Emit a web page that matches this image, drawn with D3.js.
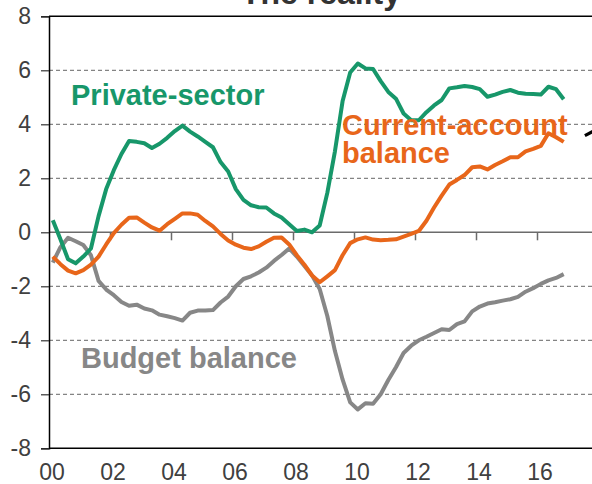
<!DOCTYPE html>
<html>
<head>
<meta charset="utf-8">
<script src="https://cdn.jsdelivr.net/npm/d3@7"></script>
<style>
  body { margin: 0; background: #fff; }
  svg { display: block; font-family: "Liberation Sans", Arial, sans-serif; }
</style>
</head>
<body>
<div id="chart"></div>
<script>
// quarterly data, 2000Q1 .. 2016Q4, % of GDP
var startYear = 2000;
var privateSector = [0.45, -0.26, -1.0, -1.15, -0.9, -0.6, 0.6, 1.6, 2.3, 2.9,
  3.38, 3.35, 3.3, 3.12, 3.28, 3.5, 3.75, 3.95, 3.73, 3.55,
  3.35, 3.15, 2.6, 2.25, 1.6, 1.2, 1.0, 0.93, 0.92, 0.7,
  0.55, 0.3, 0.05, 0.1, 0.0, 0.25, 1.46, 3.0, 4.85, 5.92,
  6.25, 6.07, 6.05, 5.6, 5.2, 4.95, 4.4, 4.15, 4.15, 4.45,
  4.7, 4.9, 5.33, 5.37, 5.42, 5.38, 5.3, 5.02, 5.1, 5.2,
  5.27, 5.17, 5.13, 5.12, 5.1, 5.39, 5.3, 4.93];
var currentAccount = [-0.9, -1.18, -1.42, -1.52, -1.4, -1.2, -0.9, -0.45, -0.03, 0.28,
  0.54, 0.55, 0.36, 0.18, 0.06, 0.3, 0.5, 0.7, 0.7, 0.65,
  0.42, 0.22, -0.06, -0.3, -0.46, -0.57, -0.62, -0.52, -0.35, -0.2,
  -0.19, -0.45, -0.85, -1.2, -1.6, -1.85, -1.63, -1.4, -0.85, -0.4,
  -0.26, -0.19, -0.27, -0.29, -0.28, -0.26, -0.16, -0.06, 0.05, 0.43,
  0.92, 1.36, 1.77, 1.94, 2.12, 2.41, 2.44, 2.33, 2.49, 2.63,
  2.78, 2.78, 3.0, 3.09, 3.2, 3.67, 3.52, 3.35];
var budgetBalance = [-1.12, -0.55, -0.2, -0.33, -0.47, -0.85, -1.8, -2.12, -2.33, -2.58,
  -2.72, -2.68, -2.82, -2.89, -3.05, -3.11, -3.18, -3.27, -2.98, -2.9,
  -2.9, -2.88, -2.6, -2.38, -2.0, -1.73, -1.63, -1.49, -1.31, -1.06,
  -0.84, -0.6, -0.9, -1.25, -1.6, -2.1, -3.1, -4.4, -5.45, -6.3,
  -6.56, -6.33, -6.35, -6.0, -5.47, -5.0, -4.47, -4.2, -4.0, -3.87,
  -3.73, -3.59, -3.62, -3.4, -3.3, -2.93, -2.75, -2.64, -2.59, -2.53,
  -2.48, -2.39, -2.2, -2.07, -1.91, -1.78, -1.69, -1.55];
// stray stroke from the neighbouring panel, cut off at the right edge
var nextPanelYears = [2017.57, 2017.85];
var nextPanelValues = [3.58, 3.75];

var yTicks = [-8, -6, -4, -2, 0, 2, 4, 6, 8];
var xTickYears = [2000, 2002, 2004, 2006, 2008, 2010, 2012, 2014, 2016];
var xTickLabels = ["00", "02", "04", "06", "08", "10", "12", "14", "16"];

var width = 592, height = 484;
var svg = d3.select("#chart").append("svg").attr("width", width).attr("height", height);

var x = d3.scaleLinear().domain([2000, 2018]).range([49, 598]);
var y = d3.scaleLinear().domain([-8, 8]).range([448.3, 16.3]);

// title, mostly cut off at the top (as in the source)
svg.append("text")
  .attr("x", 321).attr("y", 4)
  .attr("text-anchor", "middle")
  .style("font-size", "32px").style("font-weight", "bold")
  .style("fill", "#333")
  .text("The reality");

// gridlines
svg.selectAll(".grid")
  .data(yTicks.filter(function(d) { return d != 0 && Math.abs(d) != 8; }))
  .enter().append("line")
  .attr("x1", x(2000)).attr("x2", width)
  .attr("y1", function(d) { return y(d); }).attr("y2", function(d) { return y(d); })
  .style("stroke", "#666").style("stroke-width", 1).style("stroke-dasharray", "4,3");

// top and bottom borders
svg.selectAll(".border")
  .data([8, -8])
  .enter().append("line")
  .attr("x1", x(2000)).attr("x2", width)
  .attr("y1", function(d) { return y(d); }).attr("y2", function(d) { return y(d); })
  .style("stroke", "#000").style("stroke-width", 1.5);

// zero line with year ticks
svg.append("line")
  .attr("x1", x(2000)).attr("x2", width)
  .attr("y1", y(0)).attr("y2", y(0))
  .style("stroke", "#6b6b6b").style("stroke-width", 1.5);

var xAxis = d3.axisBottom(x)
  .tickValues(d3.range(2001, 2018))
  .tickSize(8)
  .tickFormat("");
var xg = svg.append("g").attr("transform", "translate(0," + y(0) + ")").call(xAxis);
xg.select(".domain").remove();
xg.selectAll(".tick line").style("stroke", "#6b6b6b").style("stroke-width", 1.5)
  .style("display", function(d) { return d % 2 == 0 ? null : "none"; });

// x labels at bottom
svg.selectAll(".xlab")
  .data(xTickYears)
  .enter().append("text")
  .attr("x", function(d) { return x(d) + 3; })
  .attr("y", 480)
  .attr("text-anchor", "middle")
  .style("font-size", "23px").style("fill", "#404040")
  .text(function(d, i) { return xTickLabels[i]; });

// y axis
var yAxis = d3.axisLeft(y).tickValues(yTicks).tickSize(8).tickPadding(10)
  .tickFormat(function(d) { return d; });
var yg = svg.append("g").attr("transform", "translate(" + x(2000) + ",0)").call(yAxis);
yg.select(".domain").style("stroke", "#000").style("stroke-width", 1.5);
yg.selectAll(".tick line").style("stroke", "#333").style("stroke-width", 1.2);
yg.selectAll(".tick text").style("font-size", "23px").style("fill", "#404040")
  .style("font-family", "'Liberation Sans', Arial, sans-serif");

// lines
function qx(d, i) { return x(startYear + i * 0.25 + 0.125); }
var line = d3.line().x(qx).y(function(d) { return y(d); });

svg.append("path").datum(budgetBalance).attr("d", line)
  .style("fill", "none").style("stroke", "#878787").style("stroke-width", 4)
  .style("stroke-linejoin", "round");
svg.append("path").datum(privateSector).attr("d", line)
  .style("fill", "none").style("stroke", "#17976a").style("stroke-width", 4)
  .style("stroke-linejoin", "round");
svg.append("path").datum(currentAccount).attr("d", line)
  .style("fill", "none").style("stroke", "#e8661a").style("stroke-width", 4)
  .style("stroke-linejoin", "round");

svg.append("path").datum(nextPanelValues)
  .attr("d", d3.line().x(function(d, i) { return x(nextPanelYears[i]); }).y(function(d) { return y(d); }))
  .style("fill", "none").style("stroke", "#000").style("stroke-width", 3.2);

// labels
function label(txt, lx, ly, color) {
  svg.append("text").attr("x", lx).attr("y", ly)
    .style("font-size", "29px").style("font-weight", "bold")
    .style("fill", color).text(txt);
}
label("Private-sector", 71, 105, "#17976a");
label("Current-account", 342, 135, "#e8661a");
label("balance", 342, 163, "#e8661a");
label("Budget balance", 81, 368, "#878787");
</script>
</body>
</html>
